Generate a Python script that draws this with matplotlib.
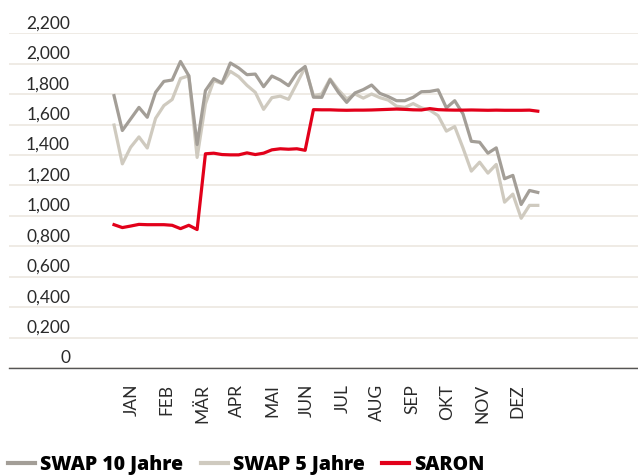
"""SARON vs. CHF swap rates, weekly, one year."""

import matplotlib.pyplot as plt
import numpy as np

months = ["JAN", "FEB", "MÄR", "APR", "MAI", "JUN",
          "JUL", "AUG", "SEP", "OKT", "NOV", "DEZ"]

swap10 = [1.790, 1.561, 1.637, 1.713, 1.648, 1.812, 1.884, 1.893, 2.015, 1.921,
          1.469, 1.823, 1.902, 1.873, 2.005, 1.972, 1.928, 1.932, 1.849, 1.919,
          1.893, 1.856, 1.939, 1.982, 1.780, 1.779, 1.895, 1.812, 1.746, 1.808,
          1.830, 1.860, 1.805, 1.784, 1.757, 1.757, 1.779, 1.816, 1.818, 1.828,
          1.710, 1.757, 1.670, 1.490, 1.484, 1.412, 1.447, 1.244, 1.266, 1.075,
          1.167, 1.154]

swap5 = [1.597, 1.342, 1.451, 1.519, 1.446, 1.641, 1.725, 1.765, 1.903, 1.921,
         1.384, 1.736, 1.889, 1.870, 1.950, 1.915, 1.858, 1.812, 1.700, 1.777,
         1.787, 1.766, 1.870, 1.977, 1.790, 1.801, 1.900, 1.828, 1.769, 1.801,
         1.774, 1.801, 1.777, 1.761, 1.721, 1.713, 1.738, 1.710, 1.695, 1.659,
         1.557, 1.587, 1.446, 1.294, 1.353, 1.281, 1.338, 1.090, 1.143, 0.984,
         1.069, 1.069]

saron = [0.942, 0.923, 0.933, 0.944, 0.942, 0.942, 0.942, 0.938, 0.916, 0.938,
         0.910, 1.408, 1.412, 1.403, 1.401, 1.401, 1.414, 1.403, 1.412, 1.434,
         1.441, 1.438, 1.441, 1.431, 1.698, 1.697, 1.697, 1.695, 1.694, 1.695,
         1.695, 1.696, 1.698, 1.700, 1.702, 1.700, 1.697, 1.696, 1.705, 1.698,
         1.696, 1.695, 1.695, 1.696, 1.695, 1.694, 1.695, 1.694, 1.694, 1.694,
         1.695, 1.688]

y_ticks = [0, 0.2, 0.4, 0.6, 0.8, 1.0, 1.2, 1.4, 1.6, 1.8, 2.0, 2.2]
y_labels = ["0", "0,200", "0,400", "0,600", "0,800", "1,000", "1,200",
            "1,400", "1,600", "1,800", "2,000", "2,200"]

C_SW10 = "#a39e97"
C_SW5 = "#cfcabf"
C_SARON = "#e2001a"
C_GRID = "#ece7e0"

plt.rcParams["font.family"] = ["Lato", "DejaVu Sans"]

fig = plt.figure(figsize=(6.38, 4.75), dpi=100)
ax = fig.add_axes([9 / 638, 1 - 368 / 475, 629 / 638, (368 - 33.3) / 475])

weeks = np.arange(len(swap10))
ax.plot(weeks, swap10, color=C_SW10, lw=2.3, label="SWAP 10 Jahre", zorder=3)
ax.plot(weeks, swap5, color=C_SW5, lw=2.3, label="SWAP 5 Jahre", zorder=2)
ax.plot(weeks, saron, color=C_SARON, lw=2.3, label="SARON", zorder=4)

# weekly x, month labels at month centres
ax.set_xlim(-12.64, 63.06)
ax.set_ylim(0, 2.2)
ax.set_xticks(2.13 + 4.224 * np.arange(12))
ax.set_xticklabels(months, rotation=90, fontsize=12.5, color="#2a2a2a")
ax.tick_params(axis="x", length=0, pad=11.5)

ax.set_yticks(y_ticks)
ax.set_yticklabels([])
ax.tick_params(axis="y", length=0)
ax.yaxis.grid(True, color=C_GRID, lw=1.2)
ax.set_axisbelow(True)

# value labels sit above their gridlines
for v, lab in zip(y_ticks, y_labels):
    ax.annotate(lab, xy=(0.097, v), xycoords=("axes fraction", "data"),
                xytext=(0, 3.6), textcoords="offset points",
                ha="right", va="baseline", fontsize=12.5, color="#2a2a2a")

for s in ["top", "right", "left"]:
    ax.spines[s].set_visible(False)
ax.spines["bottom"].set_color("#555555")
ax.spines["bottom"].set_linewidth(1.0)

leg = fig.legend(loc="center left", bbox_to_anchor=(8 / 638, 1 - 465 / 475),
                 ncol=3, frameon=False, handlelength=1.4, handletextpad=0.25,
                 columnspacing=0.9, borderaxespad=0, borderpad=0,
                 prop={"family": "Open Sans", "size": 14, "weight": "heavy"})
for line in leg.get_lines():
    line.set_linewidth(3)

fig.savefig("out.png", dpi=100)
